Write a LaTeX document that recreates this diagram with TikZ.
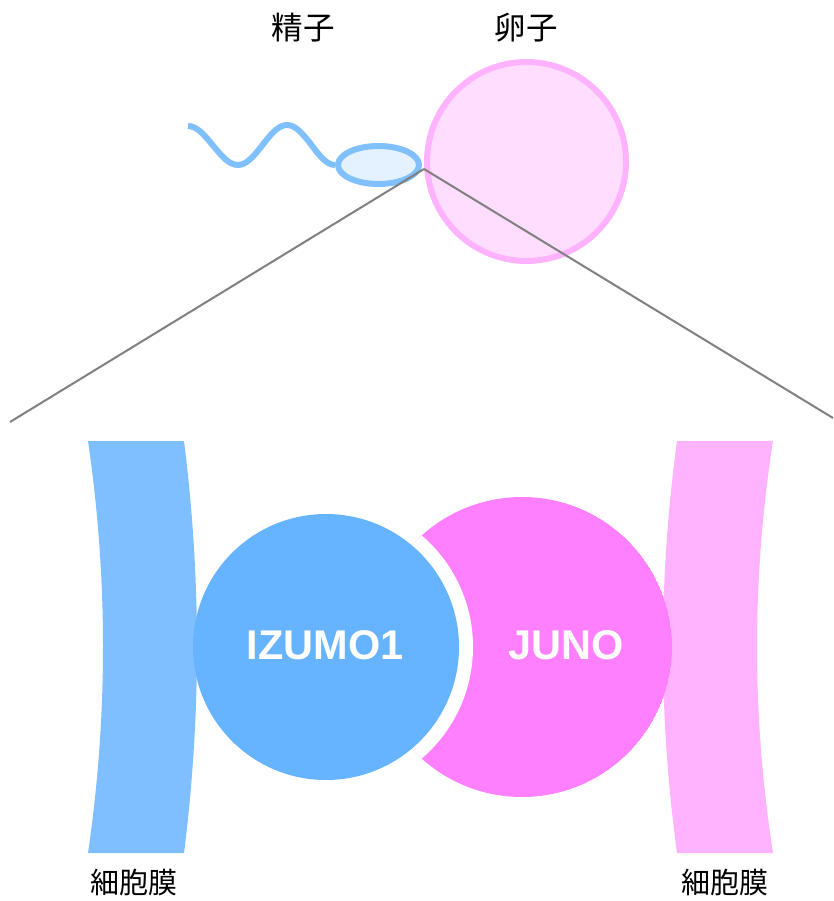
\documentclass[tikz,border=0pt]{standalone}
\usepackage{fontspec}
\setsansfont{Liberation Sans}
\newfontfamily\jpfont{Noto Sans CJK JP}
\usepackage{tikz}
\usetikzlibrary{positioning,shapes.geometric}

\definecolor{spermline}{HTML}{80C0FF}
\definecolor{spermhead}{HTML}{E4F1FF}
\definecolor{eggline}{HTML}{FFB3FF}
\definecolor{eggfill}{HTML}{FFDDFF}
\definecolor{membblue}{HTML}{80BFFF}
\definecolor{membpink}{HTML}{FFB3FF}
\definecolor{izumoblue}{HTML}{66B3FF}
\definecolor{junopink}{HTML}{FF80FF}
\definecolor{zoomgray}{HTML}{808080}

\begin{document}
\begin{tikzpicture}[
  x=1pt, y=-1pt,
  jlabel/.style={font=\jpfont\fontsize{31.5}{36}\selectfont, inner sep=0pt},
  mlabel/.style={font=\jpfont\fontsize{29}{34}\selectfont, inner sep=0pt},
  protein/.style={font=\sffamily\bfseries\fontsize{41.5}{48}\selectfont,
                  text=white, inner sep=0pt},
  zoomline/.style={draw=zoomgray, line width=2pt}
]
  \useasboundingbox (0,0) rectangle (833,901);

  % sperm and egg
  \node[circle, draw=eggline, fill=eggfill, line width=6pt,
        minimum size=199pt, inner sep=0pt] (egg) at (526.5,161.5) {};
  \node[ellipse, draw=spermline, fill=spermhead, line width=6pt,
        minimum width=81pt, minimum height=38pt, inner sep=0pt] (head) at (378.5,165) {};
  \draw[spermline, line width=6pt] (188,126) cos (213,145.5) sin (238,165)
    cos (262.5,145) sin (287,125) cos (311.5,145) sin (head.west);

  \node[jlabel] (spermlbl) at (303,28) {精子};
  \node[jlabel] (egglbl)   at (526,28) {卵子};

  % zoom lines
  \coordinate (tip) at (424,169);
  \coordinate (zl) at (10,422);
  \coordinate (zr) at (833,418);
  \draw[zoomline] (tip) -- (zl);
  \draw[zoomline] (tip) -- (zr);

  % membranes
  \fill[membblue] (88,441) .. controls (108,578) and (108,716) .. (88,853)
    -- (184,853) .. controls (201.3,716) and (201.3,578) .. (184,441) -- cycle;
  \fill[membpink] (677,441) .. controls (658.3,578) and (658.3,716) .. (677,853)
    -- (773,853) .. controls (751.7,716) and (751.7,578) .. (773,441) -- cycle;

  % proteins
  \begin{scope}
    \clip (522,647) circle (150);
    \fill[junopink] (522,647) circle (150);
    \fill[white] (326,647) circle (147);
  \end{scope}
  \node[circle, fill=izumoblue, minimum size=266pt, inner sep=0pt] (izumo) at (326,647) {};
  \node[protein] (izumolbl) at (325,645) {IZUMO1};
  \node[protein] (junolbl)  at (566,645) {JUNO};

  \node[mlabel] (memleft)  at (134,882) {細胞膜};
  \node[mlabel] (memright) at (725,882) {細胞膜};
\end{tikzpicture}
\end{document}
